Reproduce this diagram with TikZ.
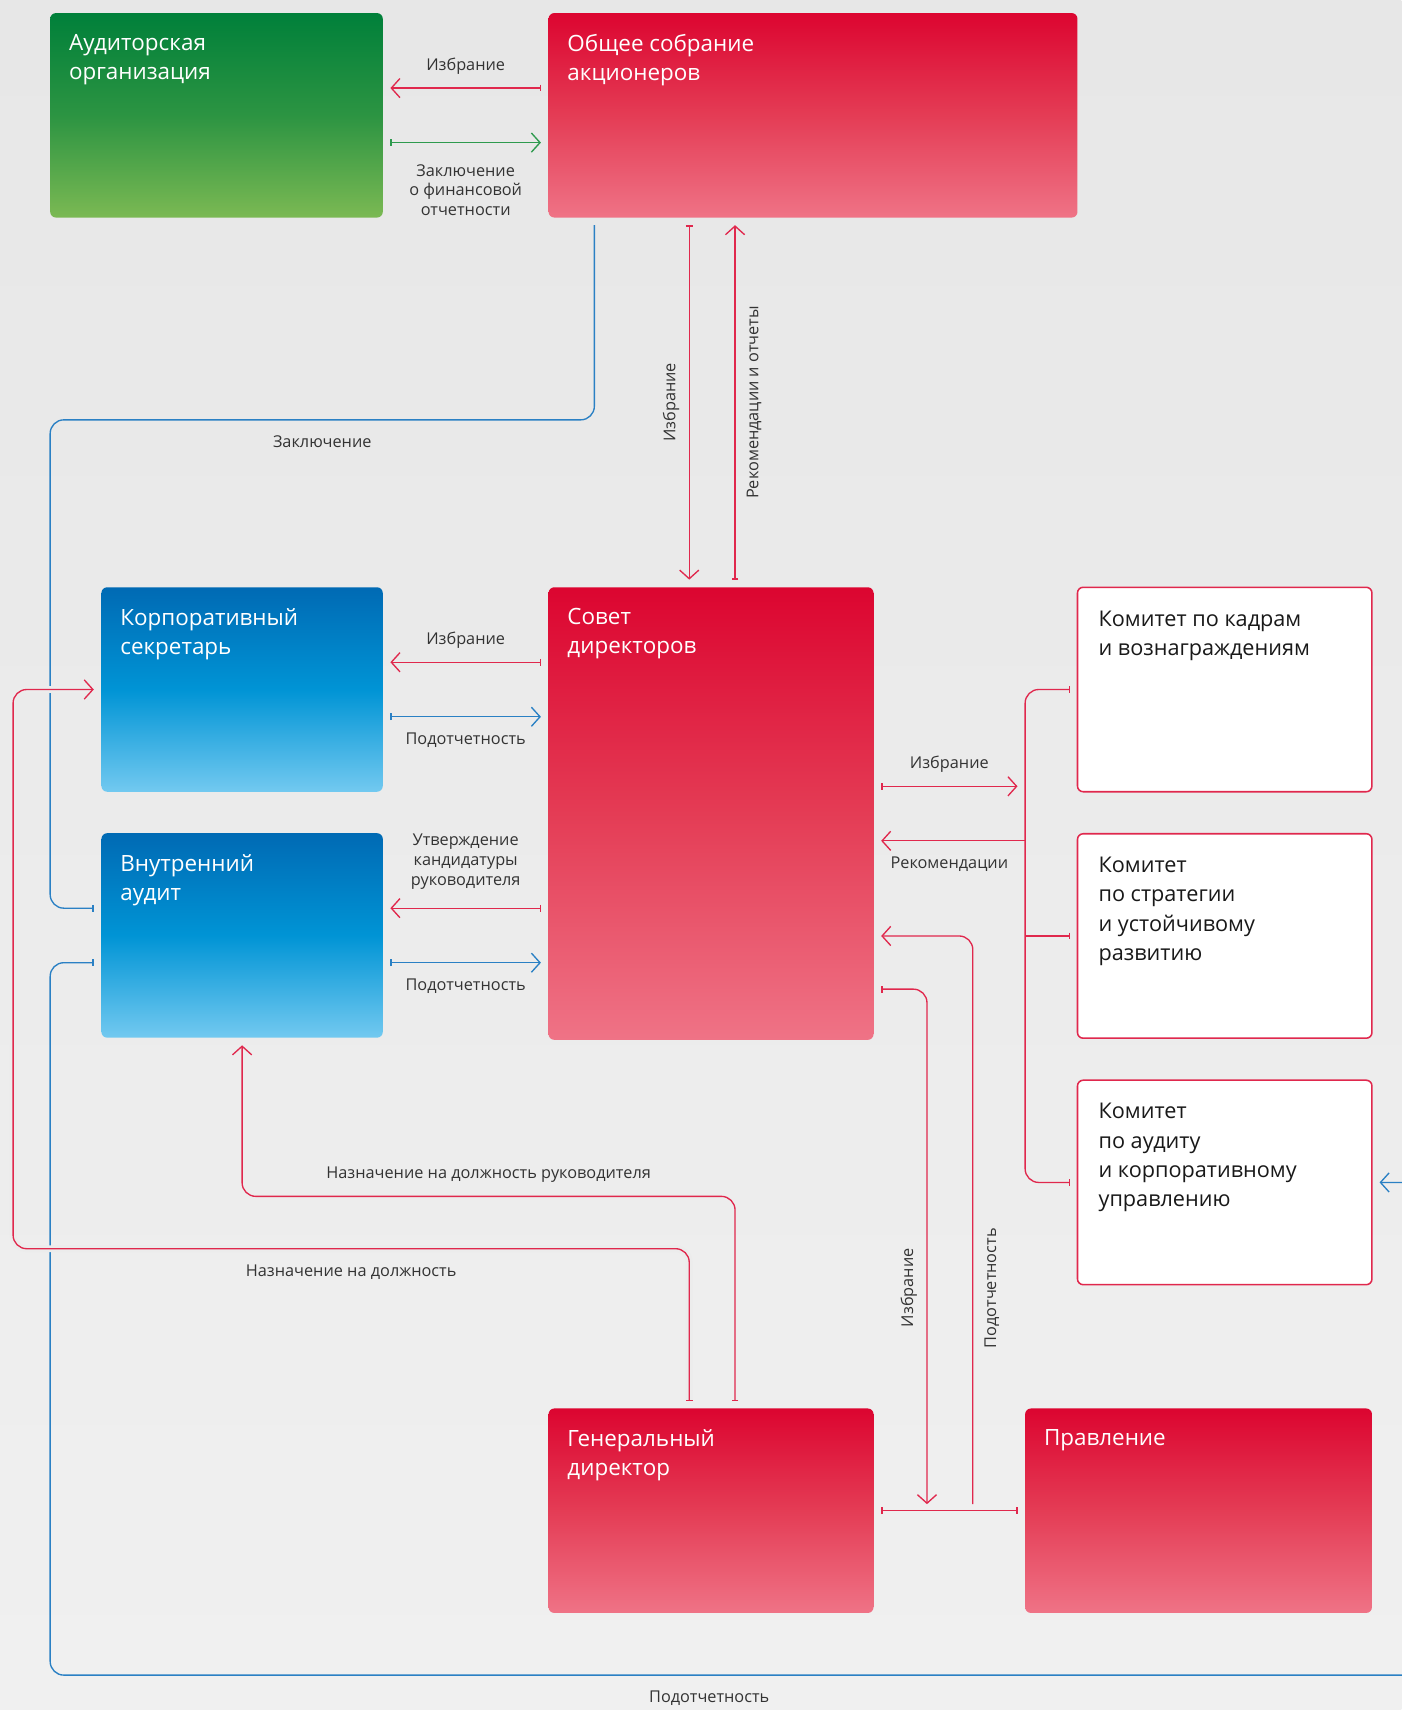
\documentclass[tikz,border=0pt]{standalone}
\usepackage{fontspec}
\setmainfont{Open Sans}
\usetikzlibrary{arrows.meta, positioning, calc}
\definecolor{redtop}{HTML}{DC0530}
\definecolor{redmid}{HTML}{E43C55}
\definecolor{redbot}{HTML}{EF7386}
\definecolor{grntop}{HTML}{00803A}
\definecolor{grnmid}{HTML}{2C9442}
\definecolor{grnbot}{HTML}{7BB953}
\definecolor{blutop}{HTML}{006AB4}
\definecolor{blumid}{HTML}{0094D5}
\definecolor{blubot}{HTML}{72C9F0}
\definecolor{lnred}{HTML}{E0284D}
\definecolor{lnblue}{HTML}{2A80C4}
\definecolor{lngreen}{HTML}{2E9A4E}
\definecolor{bgtop}{HTML}{E7E7E7}
\definecolor{bgbot}{HTML}{F0F0F0}
\definecolor{txtgray}{HTML}{333333}

\begin{document}
\begin{tikzpicture}[
  box/.style={rounded corners=3pt,minimum height=3.75cm,inner sep=0pt,outer sep=0pt},
  redbox/.style={box,top color=redtop,bottom color=redbot,middle color=redmid},
  grnbox/.style={box,top color=grntop,bottom color=grnbot,middle color=grnmid},
  blubox/.style={box,top color=blutop,bottom color=blubot,middle color=blumid,
    minimum width=5.16cm},
  combox/.style={box,fill=white,draw=lnred,line width=0.8pt,minimum width=5.4cm},
  ttl/.style={anchor=north west,align=left,inner sep=0pt,xshift=0.34cm,
    yshift=-0.38cm,text=white,font=\fontsize{11.7}{15.3}\selectfont},
  cttl/.style={ttl,text=black!90,xshift=0.04cm,yshift=-0.04cm,
    font=\fontsize{11.3}{15.3}\selectfont},
  ln/.style={line width=0.7pt,shorten <=0.14cm,shorten >=0.14cm,rounded corners=0.25cm},
  arr/.style={ln,{Bar[width=3.5pt]}-{Straight Barb[length=4.5pt,width=10pt]}},
  jarr/.style={ln,-{Straight Barb[length=4.5pt,width=10pt]},shorten <=0pt},
  halo/.style={preaction={draw=bgtop!50!bgbot,line width=3.5pt,arrows=-}},
  lb/.style={font=\fontsize{8.5}{10.3}\selectfont,text=txtgray,align=center,inner sep=1pt}
]

\useasboundingbox (0,0) rectangle (25.7,-31.36);
\fill[top color=bgtop,bottom color=bgbot] (0,0) rectangle (25.7,-31.36);

% top row
\node[grnbox,minimum width=6.1cm,anchor=north west,
  label={[ttl]north west:Аудиторская\\организация}] (aud) at (0.92,-0.24) {};
\node[redbox,minimum width=9.7cm,right=3.04cm of aud.north east,anchor=north west,
  label={[ttl]north west:Общее собрание\\акционеров}] (gsm) {};

% middle row
\node[redbox,minimum width=5.96cm,minimum height=8.3cm,
  below=6.78cm of gsm.south west,anchor=north west,
  label={[ttl]north west:Совет\\директоров}] (board) {};
\node[blubox,left=3.04cm of board.north west,anchor=north east,
  label={[ttl]north west:Корпоративный\\секретарь}] (sec) {};
\node[blubox,below=0.76cm of sec,
  label={[ttl]north west:Внутренний\\аудит}] (ia) {};

\node[combox,right=3.74cm of board.north east,anchor=north west,
  label={[cttl]north west:Комитет по кадрам\\и вознаграждениям}] (com1) {};
\node[combox,below=0.77cm of com1,
  label={[cttl]north west:Комитет\\по стратегии\\и устойчивому\\развитию}] (com2) {};
\node[combox,below=0.77cm of com2,
  label={[cttl]north west:Комитет\\по аудиту\\и корпоративному\\управлению}] (com3) {};

% bottom row
\node[redbox,minimum width=5.96cm,below=6.76cm of board.south west,anchor=north west,
  label={[ttl]north west:Генеральный\\директор}] (ceo) {};
\node[redbox,minimum width=6.36cm,right=2.78cm of ceo,
  label={[ttl]north west:Правление}] (mgmt) {};

\coordinate[right=2.78cm of board.east] (bus);
\coordinate[below=1.14cm of ceo.south] (rail);

% ОСА <-> аудитор
\draw[arr,lnred] ([yshift=0.5cm]gsm.west)
  -- node[lb,above=0.2cm]{Избрание} ([yshift=0.5cm]aud.east);
\draw[arr,lngreen] ([yshift=-0.5cm]aud.east)
  -- node[lb,below=0.35cm]{Заключение\\о финансовой\\отчетности} ([yshift=-0.5cm]gsm.west);

% ОСА -> внутренний аудит
\draw[ln,lnblue,-{Bar[width=3.5pt]}] ([xshift=0.84cm]gsm.south west)
  |- node[lb,pos=0.75,below=0.25cm]{Заключение} ([yshift=-3.71cm]aud.south west)
  |- ([yshift=0.5cm]ia.west);

% ОСА <-> совет
\draw[arr,lnred] ([xshift=-0.4cm]board.north |- gsm.south)
  -- node[lb,rotate=90,anchor=south,inner ysep=0.17cm]{Избрание} ([xshift=-0.4cm]board.north);
\draw[arr,lnred] ([xshift=0.44cm]board.north)
  -- node[lb,rotate=90,anchor=north,inner ysep=0.2cm]{Рекомендации и отчеты}
  ([xshift=0.44cm]board.north |- gsm.south);

% совет <-> секретарь, аудит
\draw[arr,lnred] ([yshift=0.5cm]sec.east -| board.west)
  -- node[lb,above=0.2cm]{Избрание} ([yshift=0.5cm]sec.east);
\draw[arr,lnblue] ([yshift=-0.5cm]sec.east)
  -- node[lb,below=0.25cm]{Подотчетность} ([yshift=-0.5cm]sec.east -| board.west);
\draw[arr,lnred] ([yshift=0.5cm]ia.east -| board.west)
  -- node[lb,above=0.3cm]{Утверждение\\кандидатуры\\руководителя} ([yshift=0.5cm]ia.east);
\draw[arr,lnblue] ([yshift=-0.5cm]ia.east)
  -- node[lb,below=0.25cm]{Подотчетность} ([yshift=-0.5cm]ia.east -| board.west);

% совет <-> комитеты
\draw[arr,lnred] ([yshift=0.5cm]board.east)
  -- node[lb,above=0.2cm]{Избрание} ([yshift=0.5cm]board.east -| bus);
\draw[jarr,lnred] ([yshift=-0.5cm]board.east -| bus)
  -- node[lb,below=0.25cm]{Рекомендации} ([yshift=-0.5cm]board.east);
\draw[ln,lnred,{Bar[width=3.5pt]}-{Bar[width=3.5pt]}] (com1.west) -| (bus) |- (com3.west);
\draw[ln,lnred,-{Bar[width=3.5pt]},shorten <=0pt] (bus |- com2.west) -- (com2.west);

% совет <-> ген. директор и правление
\draw[arr,lnred,shorten >=0pt] ([yshift=-3.22cm]board.east)
  -| node[lb,pos=0.79,rotate=90,anchor=south,inner ysep=0.17cm]{Избрание}
  ([xshift=0.98cm,yshift=0.12cm]ceo.east);
\draw[jarr,lnred] ([xshift=1.82cm,yshift=0.12cm]ceo.east)
  |- node[lb,pos=0.19,rotate=90,anchor=north,inner ysep=0.2cm]{Подотчетность}
  (com2.west -| board.east);
\draw[ln,lnred,{Bar[width=3.5pt]}-{Bar[width=3.5pt]}] (ceo.east) -- (mgmt.west);

% внутренний аудит -> комитет по аудиту
\draw[arr,lnblue] ([yshift=-0.5cm]ia.west) -| (aud.west |- rail)
  -| node[lb,pos=0.24,below=0.25cm]{Подотчетность} ([xshift=0.94cm]com3.east)
  -- (com3.east);

% ген. директор -> аудит, секретарь
\draw[arr,lnred] ([xshift=0.44cm]ceo.north)
  |- node[lb,pos=0.75,above=0.2cm]{Назначение на должность руководителя}
  ([yshift=-2.91cm]ia.south) -- (ia.south);
\draw[arr,lnred,halo] ([xshift=-0.4cm]ceo.north)
  |- node[lb,pos=0.75,below=0.25cm]{Назначение на должность}
  ([xshift=-1.62cm,yshift=-3.87cm]ia.south west) |- (sec.west);

\end{tikzpicture}
\end{document}
